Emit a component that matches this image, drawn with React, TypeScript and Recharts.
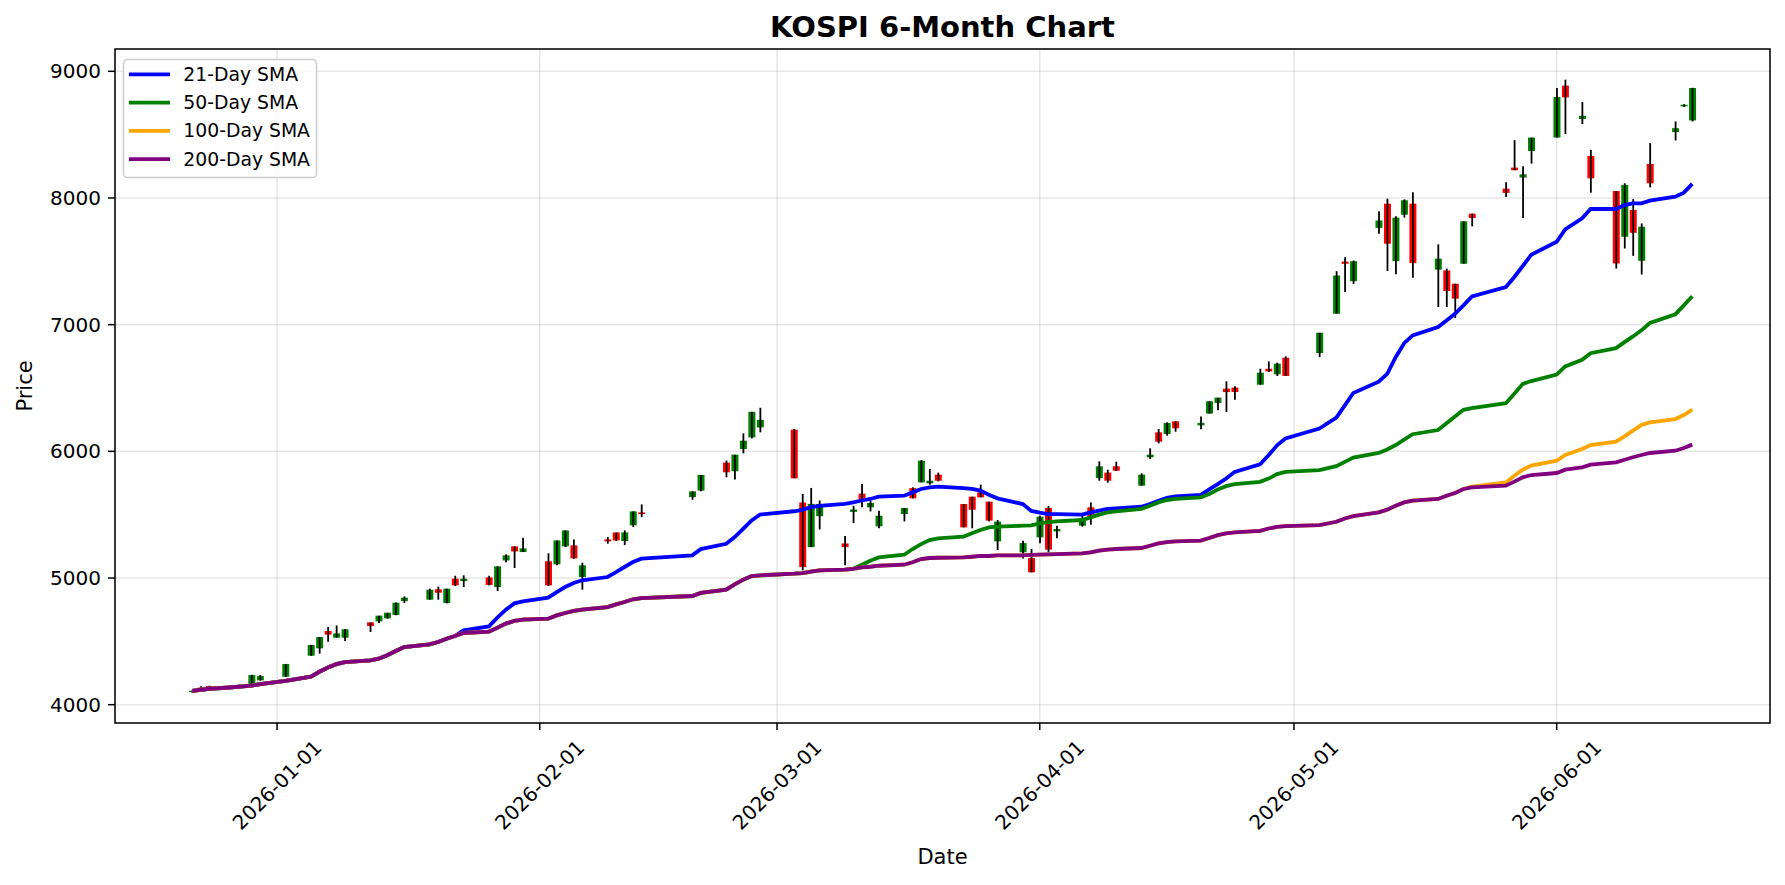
import { ComposedChart, Bar, Line, XAxis, YAxis, CartesianGrid, ReferenceArea } from "recharts"

// trading days shown on the chart
const dates = [
  "2025-12-22", "2025-12-23", "2025-12-24", "2025-12-26", "2025-12-29", "2025-12-30",
  "2026-01-02", "2026-01-05", "2026-01-06", "2026-01-07", "2026-01-08", "2026-01-09",
  "2026-01-12", "2026-01-13", "2026-01-14", "2026-01-15", "2026-01-16",
  "2026-01-19", "2026-01-20", "2026-01-21", "2026-01-22", "2026-01-23",
  "2026-01-26", "2026-01-27", "2026-01-28", "2026-01-29", "2026-01-30",
  "2026-02-02", "2026-02-03", "2026-02-04", "2026-02-05", "2026-02-06",
  "2026-02-09", "2026-02-10", "2026-02-11", "2026-02-12", "2026-02-13",
  "2026-02-19", "2026-02-20",
  "2026-02-23", "2026-02-24", "2026-02-25", "2026-02-26", "2026-02-27",
  "2026-03-03", "2026-03-04", "2026-03-05", "2026-03-06",
  "2026-03-09", "2026-03-10", "2026-03-11", "2026-03-12", "2026-03-13",
  "2026-03-16", "2026-03-17", "2026-03-18", "2026-03-19", "2026-03-20",
  "2026-03-23", "2026-03-24", "2026-03-25", "2026-03-26", "2026-03-27",
  "2026-03-30", "2026-03-31", "2026-04-01", "2026-04-02", "2026-04-03",
  "2026-04-06", "2026-04-07", "2026-04-08", "2026-04-09", "2026-04-10",
  "2026-04-13", "2026-04-14", "2026-04-15", "2026-04-16", "2026-04-17",
  "2026-04-20", "2026-04-21", "2026-04-22", "2026-04-23", "2026-04-24",
  "2026-04-27", "2026-04-28", "2026-04-29", "2026-04-30",
  "2026-05-04", "2026-05-06", "2026-05-07", "2026-05-08",
  "2026-05-11", "2026-05-12", "2026-05-13", "2026-05-14", "2026-05-15",
  "2026-05-18", "2026-05-19", "2026-05-20", "2026-05-21", "2026-05-22",
  "2026-05-26", "2026-05-27", "2026-05-28", "2026-05-29",
  "2026-06-01", "2026-06-02", "2026-06-04", "2026-06-05",
  "2026-06-08", "2026-06-09", "2026-06-10", "2026-06-11", "2026-06-12",
  "2026-06-15", "2026-06-16", "2026-06-17",
]

const opens = [
  4100, 4135, 4147, 4133, 4163, 4192,
  4221, 4387, 4445, 4582, 4529, 4529,
  4650, 4658, 4682, 4708, 4818,
  4829, 4911, 4803, 4995, 4976,
  5005, 4929, 5139, 5250, 5205,
  5132, 5108, 5250, 5258, 5008,
  5305, 5360, 5292, 5416, 5518,
  5639, 5690,
  5911, 5843, 6018, 6110, 6189,
  6171, 5596, 5244, 5488,
  5273, 5522, 5666, 5558, 5408,
  5505, 5710, 5755, 5747, 5816,
  5584, 5642, 5676, 5603, 5289,
  5203, 5157, 5321, 5553, 5368,
  5413, 5558, 5789, 5832, 5882,
  5729, 5953, 6150, 6137, 6237,
  6205, 6298, 6382, 6495, 6503,
  6526, 6652, 6608, 6739,
  6776, 7086, 7498, 7343,
  7764, 7955, 7502, 7868, 7955,
  7434, 7428, 7323, 7481, 7876,
  8074, 8240, 8161, 8371,
  8477, 8887, 8623, 8332,
  8055, 7694, 7905, 7504, 8269,
  8520, 8723, 8612,
]

const highs = [
  4120, 4145, 4150, 4146, 4236, 4234,
  4322, 4472, 4534, 4613, 4626, 4597,
  4650, 4703, 4726, 4806, 4855,
  4916, 4932, 4916, 5018, 5021,
  5018, 5092, 5187, 5250, 5318,
  5195, 5297, 5376, 5305, 5121,
  5324, 5360, 5376, 5526, 5581,
  5684, 5814,
  5927, 5974, 6142, 6312, 6344,
  6176, 5664, 5711, 5612,
  5331, 5570, 5743, 5610, 5532,
  5553, 5716, 5932, 5861, 5832,
  5584, 5642, 5737, 5603, 5458,
  5295, 5229, 5492, 5568, 5413,
  5492, 5597, 5921, 5855, 5918,
  5826, 6024, 6176, 6229, 6237,
  6276, 6395, 6424, 6553, 6513,
  6652, 6710, 6700, 6750,
  6936, 7422, 7532, 7506,
  7896, 7995, 7855, 7989, 8045,
  7634, 7442, 7323, 7816, 7876,
  8124, 8456, 8250, 8477,
  8868, 8934, 8757, 8380,
  8055, 8116, 7992, 7799, 8433,
  8604, 8740, 8870,
]

const lows = [
  4092, 4112, 4120, 4126, 4160, 4190,
  4220, 4386, 4403, 4497, 4529, 4503,
  4574, 4645, 4679, 4706, 4803,
  4829, 4829, 4800, 4937, 4929,
  4942, 4897, 5124, 5079, 5205,
  4937, 5100, 5245, 5153, 4908,
  5271, 5292, 5260, 5403, 5481,
  5618, 5685,
  5795, 5777, 5984, 6102, 6150,
  5787, 5060, 5244, 5383,
  5100, 5433, 5559, 5526, 5392,
  5447, 5629, 5755, 5737, 5763,
  5400, 5392, 5637, 5447, 5221,
  5155, 5045, 5274, 5203, 5313,
  5405, 5421, 5768, 5753, 5847,
  5729, 5939, 6063, 6124, 6155,
  6174, 6298, 6324, 6311, 6408,
  6526, 6626, 6595, 6595,
  6744, 7086, 7257, 7322,
  7717, 7423, 7397, 7845, 7370,
  7139, 7139, 7052, 7481, 7776,
  8008, 8219, 7842, 8271,
  8477, 8504, 8583, 8042,
  7443, 7601, 7543, 7396, 8084,
  8454, 8720, 8604,
]

const closes = [
  4110, 4122, 4129, 4138, 4234, 4226,
  4321, 4471, 4534, 4553, 4563, 4595,
  4621, 4703, 4726, 4805, 4845,
  4908, 4884, 4916, 4942, 4995,
  4945, 5092, 5179, 5210, 5234,
  4942, 5297, 5376, 5155, 5100,
  5289, 5297, 5360, 5526, 5505,
  5684, 5814,
  5835, 5974, 6084, 6312, 6249,
  5787, 5087, 5585, 5585,
  5244, 5541, 5611, 5592, 5492,
  5553, 5629, 5926, 5768, 5768,
  5400, 5539, 5637, 5453, 5445,
  5276, 5045, 5484, 5224, 5387,
  5458, 5484, 5882, 5768, 5847,
  5816, 5974, 6076, 6224, 6182,
  6225, 6395, 6424, 6468, 6468,
  6621, 6631, 6692, 6595,
  6936, 7388, 7480, 7501,
  7822, 7639, 7845, 7982, 7486,
  7521, 7265, 7205, 7816, 7842,
  8040, 8219, 8187, 8477,
  8797, 8794, 8649, 8155,
  7483, 8103, 7725, 7773, 8116,
  8551, 8736, 8868,
]

const sma21 = [
  4110, 4118, 4126, 4134, 4150, 4163,
  4189, 4221, 4260, 4293, 4320, 4336,
  4350, 4363, 4390, 4424, 4455,
  4476, 4495, 4521, 4542, 4587,
  4618, 4687, 4750, 4800, 4815,
  4845, 4889, 4929, 4961, 4982,
  5008, 5047, 5087, 5126, 5153,
  5179, 5228,
  5270, 5323, 5388, 5454, 5501,
  5527, 5538, 5559, 5570,
  5585, 5598, 5612, 5624, 5642,
  5650, 5676, 5703, 5716, 5721,
  5710, 5703, 5690, 5658, 5629,
  5584, 5530, 5516, 5505, 5505,
  5500, 5518, 5532, 5545, 5550,
  5563, 5584, 5610, 5632, 5645,
  5656, 5700, 5741, 5785, 5838,
  5898, 5969, 6048, 6101,
  6180, 6266, 6363, 6461,
  6550, 6612, 6743, 6854, 6915,
  6981, 7033, 7086, 7152, 7223,
  7297, 7376, 7463, 7552,
  7654, 7752, 7839, 7913,
  7913, 7944, 7958, 7958, 7979,
  8010, 8042, 8111,
]

const sma50 = [
  4110, 4118, 4126, 4134, 4150, 4163,
  4189, 4221, 4260, 4293, 4320, 4336,
  4350, 4363, 4390, 4424, 4455,
  4476, 4495, 4521, 4542, 4566,
  4576, 4608, 4640, 4661, 4671,
  4679, 4705, 4724, 4740, 4750,
  4771, 4792, 4811, 4832, 4842,
  4858, 4882,
  4908, 4950, 4987, 5016, 5021,
  5034, 5039, 5050, 5060,
  5066, 5073, 5105, 5137, 5163,
  5184, 5229, 5268, 5300, 5313,
  5326, 5353, 5379, 5400, 5405,
  5413, 5416, 5431, 5442, 5447,
  5458, 5479, 5500, 5518, 5526,
  5545, 5571, 5597, 5616, 5624,
  5637, 5663, 5699, 5725, 5741,
  5759, 5785, 5820, 5838,
  5851, 5883, 5917, 5951,
  5987, 6015, 6050, 6093, 6135,
  6168, 6222, 6275, 6328, 6341,
  6380, 6454, 6533, 6555,
  6606, 6670, 6723, 6775,
  6815, 6862, 6907, 6955, 7013,
  7081, 7152, 7224,
]

const sma100 = [
  4110, 4118, 4126, 4134, 4150, 4163,
  4189, 4221, 4260, 4293, 4320, 4336,
  4350, 4363, 4390, 4424, 4455,
  4476, 4495, 4521, 4542, 4566,
  4576, 4608, 4640, 4661, 4671,
  4679, 4705, 4724, 4740, 4750,
  4771, 4792, 4811, 4832, 4842,
  4858, 4882,
  4908, 4950, 4987, 5016, 5021,
  5034, 5039, 5050, 5060,
  5066, 5073, 5084, 5089, 5097,
  5105, 5124, 5150, 5158, 5160,
  5163, 5168, 5174, 5174, 5179,
  5179, 5182, 5184, 5187, 5189,
  5195, 5203, 5216, 5224, 5229,
  5237, 5255, 5274, 5284, 5289,
  5295, 5316, 5339, 5352, 5360,
  5373, 5391, 5404, 5410,
  5418, 5444, 5470, 5489,
  5518, 5540, 5571, 5597, 5611,
  5624, 5650, 5671, 5703, 5721,
  5755, 5808, 5855, 5887,
  5926, 5971, 6018, 6050,
  6076, 6118, 6163, 6208, 6229,
  6255, 6287, 6329,
]

const sma200 = [
  4110, 4118, 4126, 4134, 4150, 4163,
  4189, 4221, 4260, 4293, 4320, 4336,
  4350, 4363, 4390, 4424, 4455,
  4476, 4495, 4521, 4542, 4566,
  4576, 4608, 4640, 4661, 4671,
  4679, 4705, 4724, 4740, 4750,
  4771, 4792, 4811, 4832, 4842,
  4858, 4882,
  4908, 4950, 4987, 5016, 5021,
  5034, 5039, 5050, 5060,
  5066, 5073, 5084, 5089, 5097,
  5105, 5124, 5150, 5158, 5160,
  5163, 5168, 5174, 5174, 5179,
  5179, 5182, 5184, 5187, 5189,
  5195, 5203, 5216, 5224, 5229,
  5237, 5255, 5274, 5284, 5289,
  5295, 5316, 5339, 5352, 5360,
  5373, 5391, 5404, 5410,
  5418, 5444, 5470, 5489,
  5518, 5540, 5571, 5597, 5611,
  5624, 5650, 5671, 5703, 5716,
  5729, 5761, 5795, 5813,
  5829, 5855, 5874, 5895,
  5913, 5934, 5953, 5971, 5987,
  6005, 6026, 6053,
]

const xTickLabels = ["2026-01-01", "2026-02-01", "2026-03-01", "2026-04-01", "2026-05-01", "2026-06-01"]
const yTicks = [4000, 5000, 6000, 7000, 8000, 9000]

const smaSeries = [
  { key: "sma21", label: "21-Day SMA", color: "#0000ff", values: sma21 },
  { key: "sma50", label: "50-Day SMA", color: "#008000", values: sma50 },
  { key: "sma100", label: "100-Day SMA", color: "#ffa500", values: sma100 },
  { key: "sma200", label: "200-Day SMA", color: "#800080", values: sma200 },
]

const W = 1785
const H = 885
const FONT = "DejaVu Sans"
const X_DOMAIN: [number, number] = [-19.12, 176.17]
const Y_DOMAIN: [number, number] = [3855.6, 9176]

let dayOf = (s: string) => (Date.parse(s) - Date.parse("2026-01-01")) / 86400000
let xTicks = xTickLabels.map(dayOf)

let Candle = (props: any) => {
  let { x, y, width, height, payload } = props
  if (!payload) return null
  let { open, close, high, low } = payload
  let top = Math.min(y, y + height)
  let h = Math.abs(height)
  let span = high - low || 1
  let py = (v: number) => top + ((high - v) / span) * h
  let bodyTop = py(Math.max(open, close))
  let bodyH = Math.max(py(Math.min(open, close)) - bodyTop, 1)
  let cx = x + width / 2
  return (
    <g>
      <rect x={x} y={bodyTop} width={width} height={bodyH} fill={close >= open ? "#008000" : "#ff0000"} />
      <line x1={cx} x2={cx} y1={top} y2={top + h} stroke="#000" strokeWidth={1.8} />
    </g>
  )
}

let DateTick = ({ x, y, payload }: any) => {
  let cy = y + 48
  let label = xTickLabels[xTicks.indexOf(payload.value)] ?? ""
  return (
    <text
      x={x}
      y={cy}
      textAnchor="middle"
      dominantBaseline="central"
      transform={`rotate(-45 ${x} ${cy})`}
      fontSize={20}
      fontFamily={FONT}
      fill="#000"
    >
      {label}
    </text>
  )
}

export default function App() {
  let data = dates.map((d, i) => ({
    t: dayOf(d),
    open: opens[i],
    high: highs[i],
    low: lows[i],
    close: closes[i],
    sma21: sma21[i],
    sma50: sma50[i],
    sma100: sma100[i],
    sma200: sma200[i],
  }))

  return (
    <div style={{ position: "absolute", left: 0, top: 0, width: W, height: H, background: "#fff", fontFamily: FONT }}>
      <ComposedChart width={W} height={H} data={data} margin={{ top: 49, right: 15, bottom: 62, left: 15 }}>
        <CartesianGrid stroke="#b0b0b0" strokeOpacity={0.3} strokeWidth={1.5} />
        <XAxis
          dataKey="t"
          type="number"
          domain={X_DOMAIN}
          allowDataOverflow
          ticks={xTicks}
          interval={0}
          height={100}
          tickSize={7}
          tickMargin={7}
          axisLine={false}
          tickLine={{ stroke: "#000", strokeWidth: 1.5 }}
          tick={<DateTick />}
        />
        <YAxis
          type="number"
          domain={Y_DOMAIN}
          allowDataOverflow
          ticks={yTicks}
          interval={0}
          width={100}
          tickSize={7}
          tickMargin={7}
          axisLine={false}
          tickLine={{ stroke: "#000", strokeWidth: 1.5 }}
          tick={{ fontSize: 20, fill: "#000", fontFamily: FONT }}
        />
        {smaSeries.map((s) => (
          <Line
            key={s.key}
            dataKey={s.key}
            type="linear"
            stroke={s.color}
            strokeWidth={3.8}
            dot={false}
            activeDot={false}
            isAnimationActive={false}
          />
        ))}
        <Bar dataKey={(d: any) => [d.low, d.high]} barSize={7} shape={<Candle />} isAnimationActive={false} />
        <ReferenceArea
          x1={X_DOMAIN[0]}
          x2={X_DOMAIN[1]}
          y1={Y_DOMAIN[0]}
          y2={Y_DOMAIN[1]}
          fill="none"
          stroke="#000"
          strokeWidth={1.5}
          ifOverflow="visible"
        />
      </ComposedChart>
      <svg width={W} height={H} style={{ position: "absolute", left: 0, top: 0, pointerEvents: "none" }} fontFamily={FONT}>
        <text x={942.5} y={37} textAnchor="middle" fontSize={29} fontWeight="bold" fill="#000">
          KOSPI 6-Month Chart
        </text>
        <text x={942.5} y={864} textAnchor="middle" fontSize={21} fill="#000">
          Date
        </text>
        <text transform="translate(32 386) rotate(-90)" textAnchor="middle" fontSize={21} fill="#000">
          Price
        </text>
        <rect x={123.5} y={59.5} width={193} height={118} rx={4} fill="#fff" fillOpacity={0.8} stroke="#cccccc" strokeWidth={1.5} />
        {smaSeries.map((s, i) => {
          let ry = 74.3 + i * 28.3
          return (
            <g key={s.key}>
              <line x1={129} x2={170} y1={ry} y2={ry} stroke={s.color} strokeWidth={3.8} />
              <text x={183.3} y={ry} dominantBaseline="central" fontSize={18.8} fill="#000">
                {s.label}
              </text>
            </g>
          )
        })}
      </svg>
    </div>
  )
}
